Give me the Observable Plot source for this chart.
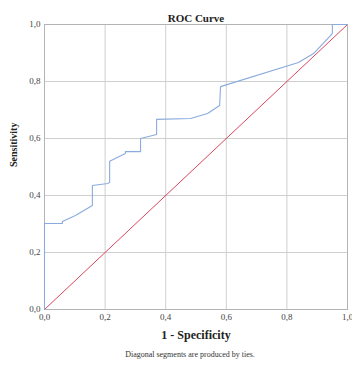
<!DOCTYPE html>
<html>
<head>
<meta charset="utf-8">
<script src="https://cdn.jsdelivr.net/npm/d3@7"></script>
<script src="https://cdn.jsdelivr.net/npm/@observablehq/plot@0.6"></script>
<style>
  html, body { margin: 0; padding: 0; background: #fff; }
  svg text { font-family: "Liberation Serif", "DejaVu Serif", serif; }
</style>
</head>
<body>
<div id="chart"></div>
<script>
const fpr = [0, 0, 0.059, 0.059, 0.102, 0.158, 0.158, 0.209, 0.215, 0.215, 0.267, 0.267, 0.317, 0.317, 0.37, 0.37, 0.482, 0.538, 0.578, 0.581, 0.838, 0.888, 0.95, 0.95, 1];
const tpr = [0, 0.302, 0.302, 0.309, 0.33, 0.365, 0.435, 0.442, 0.446, 0.52, 0.547, 0.554, 0.554, 0.6, 0.614, 0.667, 0.67, 0.688, 0.716, 0.782, 0.867, 0.898, 0.968, 1, 1];
const diagX = [0, 1];
const diagY = [0, 1];
const ticks = [0, 0.2, 0.4, 0.6, 0.8, 1.0];
const tickLabels = ["0,0", "0,2", "0,4", "0,6", "0,8", "1,0"];
const title = "ROC Curve";
const xLabel = "1 - Specificity";
const yLabel = "Sensitivity";
const caption = "Diagonal segments are produced by ties.";

const idx = fpr.map((d, i) => i);
const fmt = d => tickLabels[ticks.findIndex(t => Math.abs(t - d) < 1e-9)];

const chart = Plot.plot({
  width: 352,
  height: 366,
  marginLeft: 44,
  marginRight: 5,
  marginTop: 24,
  marginBottom: 57,
  style: { fontFamily: "'Liberation Serif', 'DejaVu Serif', serif", fontSize: "9px", color: "#333", background: "#fff" },
  x: { domain: [0, 1] },
  y: { domain: [0, 1] },
  marks: [
    Plot.gridX(ticks, { stroke: "#cfcfcf", strokeOpacity: 1 }),
    Plot.gridY(ticks, { stroke: "#cfcfcf", strokeOpacity: 1 }),
    Plot.frame({ stroke: "#b4b4b4" }),
    Plot.axisX(ticks, { tickSize: 0, tickPadding: 4, tickFormat: fmt, label: null, fill: "#444" }),
    Plot.axisY(ticks, { tickSize: 0, tickPadding: 4, tickFormat: fmt, label: null, fill: "#444" }),
    Plot.line([0, 1], { x: i => diagX[i], y: i => diagY[i], stroke: "#d9475e", strokeWidth: 1 }),
    Plot.line(idx, { x: i => fpr[i], y: i => tpr[i], stroke: "#8aabde", strokeWidth: 1.1 }),
    Plot.text([title], { frameAnchor: "top", dy: -10, fontWeight: "bold", fontSize: 11, fill: "#222" }),
    Plot.text([xLabel], { frameAnchor: "bottom", dy: 29, fontWeight: "bold", fontSize: 12, fill: "#222" }),
    Plot.text([yLabel], { frameAnchor: "left", dx: -31, rotate: -90, fontWeight: "bold", fontSize: 10, fill: "#222" }),
    Plot.text([caption], { frameAnchor: "bottom", dx: -6, dy: 47, fontSize: 8, fill: "#333" })
  ]
});
document.getElementById("chart").appendChild(chart);
</script>
</body>
</html>
